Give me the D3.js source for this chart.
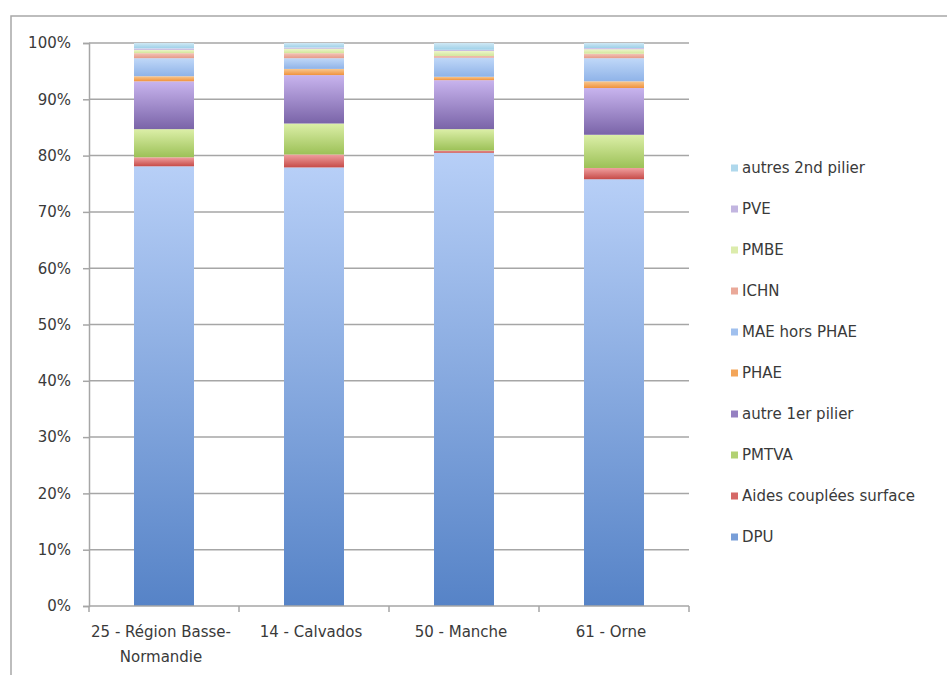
<!DOCTYPE html>
<html>
<head>
<meta charset="utf-8">
<script src="https://cdn.jsdelivr.net/npm/d3@7"></script>
<style>
  body { margin: 0; background: #fff; }
  text { font-family: "DejaVu Sans", sans-serif; fill: #3a3a3a; }
</style>
</head>
<body>
<svg width="947" height="675"></svg>
<script>
// categories (x axis)
const categories = ["25 - Région Basse-Normandie", "14 - Calvados", "50 - Manche", "61 - Orne"];
const categoryLines = [["25 - Région Basse-", "Normandie"], ["14 - Calvados"], ["50 - Manche"], ["61 - Orne"]];

// series, bottom to top, share in %
const seriesNames = ["DPU", "Aides couplées surface", "PMTVA", "autre 1er pilier", "PHAE",
  "MAE hors PHAE", "ICHN", "PMBE", "PVE", "autres 2nd pilier"];
const DPU = [78.1, 77.9, 80.5, 75.8];
const aidesCouplees = [1.6, 2.3, 0.4, 2.0];
const PMTVA = [5.0, 5.5, 3.8, 5.9];
const autre1er = [8.5, 8.6, 8.7, 8.3];
const PHAE = [0.9, 1.1, 0.6, 1.2];
const MAEhorsPHAE = [3.2, 1.9, 3.4, 4.1];
const ICHN = [0.9, 0.9, 0.3, 0.8];
const PMBE = [0.6, 0.8, 0.9, 0.8];
const PVE = [0.25, 0.2, 0.2, 0.2];
const autres2nd = [0.95, 0.8, 1.2, 0.9];
const seriesValues = [DPU, aidesCouplees, PMTVA, autre1er, PHAE, MAEhorsPHAE, ICHN, PMBE, PVE, autres2nd];

const yTicks = [0, 10, 20, 30, 40, 50, 60, 70, 80, 90, 100];

// [dark bottom, light top]
const colors = [
  ["#5683c7", "#b7cff7"],
  ["#c64b48", "#f0a0a0"],
  ["#9cc157", "#dcefa8"],
  ["#7a64a8", "#c8b4ee"],
  ["#f0923c", "#f8c890"],
  ["#8fb3e8", "#c0d8f8"],
  ["#e59a88", "#f4c4b8"],
  ["#d2e69a", "#eef6cc"],
  ["#b4a6d8", "#ddd0f0"],
  ["#9dd0e8", "#cfe8f4"]
];

const svg = d3.select("svg");

// outer frame (top + left only visible)
svg.append("path")
  .attr("d", "M11,675 V16 H947")
  .attr("fill", "none")
  .attr("stroke", "#a8a8a8")
  .attr("stroke-width", 1.5);

const x = d3.scaleBand().domain(categories).range([89, 689]).paddingInner(0.6).paddingOuter(0.3);
const y = d3.scaleLinear().domain([0, 100]).range([606, 43]);

// gradients
const defs = svg.append("defs");
colors.forEach((c, i) => {
  const g = defs.append("linearGradient")
    .attr("id", "grad" + i)
    .attr("x1", 0).attr("y1", 1).attr("x2", 0).attr("y2", 0);
  g.append("stop").attr("offset", "0%").attr("stop-color", c[0]);
  g.append("stop").attr("offset", "100%").attr("stop-color", c[1]);
});

// gridlines
svg.append("g")
  .selectAll("line")
  .data(yTicks.filter(d => d > 0))
  .join("line")
  .attr("x1", 89).attr("x2", 689)
  .attr("y1", d => y(d)).attr("y2", d => y(d))
  .attr("stroke", "#a6a6a6")
  .attr("stroke-width", 1.5);

// stacked data
const table = categories.map((c, i) => {
  const row = { cat: c };
  seriesNames.forEach((s, j) => row[s] = seriesValues[j][i]);
  return row;
});
const stacked = d3.stack().keys(seriesNames)(table);

svg.append("g")
  .selectAll("g")
  .data(stacked)
  .join("g")
  .attr("fill", (d, i) => `url(#grad${i})`)
  .selectAll("rect")
  .data(d => d)
  .join("rect")
  .attr("x", d => x(d.data.cat))
  .attr("width", x.bandwidth())
  .attr("y", d => y(d[1]))
  .attr("height", d => y(d[0]) - y(d[1]));

// y axis
const yAxis = svg.append("g")
  .attr("transform", "translate(89,0)")
  .call(d3.axisLeft(y).tickValues(yTicks).tickFormat(d => d + "%").tickSize(6).tickPadding(12));
yAxis.select(".domain").attr("stroke", "#a6a6a6").attr("stroke-width", 1.5);
yAxis.selectAll(".tick line").attr("stroke", "#a6a6a6").attr("stroke-width", 1.5);
yAxis.selectAll("text").attr("font-size", 15).attr("fill", "#3a3a3a")
  .style("font-family", "\"DejaVu Sans\", sans-serif");

// x axis
const boundaries = [89, 239, 389, 539, 689];
const xAxis = svg.append("g");
xAxis.append("line")
  .attr("x1", 89).attr("x2", 689).attr("y1", y(0)).attr("y2", y(0))
  .attr("stroke", "#a6a6a6").attr("stroke-width", 1.5);
xAxis.selectAll("line.tk")
  .data(boundaries)
  .join("line")
  .attr("class", "tk")
  .attr("x1", d => d).attr("x2", d => d)
  .attr("y1", y(0)).attr("y2", y(0) + 6)
  .attr("stroke", "#a6a6a6").attr("stroke-width", 1.5);

const labels = xAxis.selectAll("text.cat")
  .data(categories)
  .join("text")
  .attr("class", "cat")
  .attr("text-anchor", "middle")
  .attr("font-size", 15)
  .attr("x", d => x(d) + x.bandwidth() / 2 - 3)
  .attr("y", 637);
labels.selectAll("tspan")
  .data((d, i) => categoryLines[i])
  .join("tspan")
  .attr("x", function() { return this.parentNode.getAttribute("x"); })
  .attr("dy", (d, i) => i === 0 ? 0 : 25)
  .text(d => d);

// legend (reversed order)
const legendItems = seriesNames.map((s, i) => ({ name: s, i })).reverse();
const ly = d3.scalePoint().domain(legendItems.map(d => d.name)).range([168, 537]);
const legend = svg.append("g")
  .selectAll("g")
  .data(legendItems)
  .join("g")
  .attr("transform", d => `translate(731,${ly(d.name)})`);
legend.append("rect")
  .attr("x", 0).attr("y", -3.5)
  .attr("width", 7).attr("height", 7)
  .attr("fill", d => d3.interpolateRgb(colors[d.i][0], colors[d.i][1])(0.35));
legend.append("text")
  .attr("x", 11).attr("y", 0)
  .attr("dy", "0.35em")
  .attr("font-size", 15)
  .text(d => d.name);
</script>
</body>
</html>
